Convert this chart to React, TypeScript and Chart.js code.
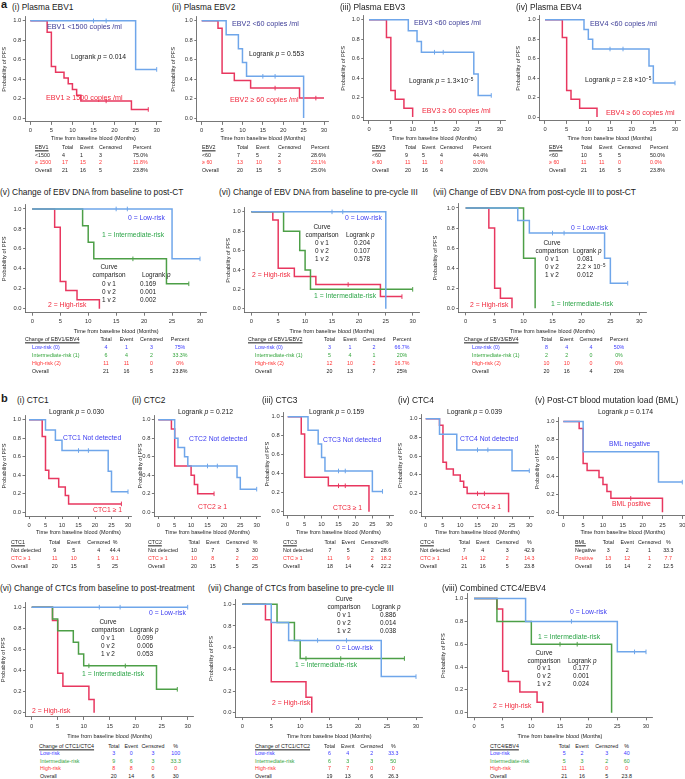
import React, { useEffect, useRef } from "react";
import { Chart, registerables } from "chart.js";

Chart.register(...registerables);

const FONT = '"Liberation Sans", Arial, Helvetica, sans-serif';
const BLUE = "#6fa6ea";
const RED = "#e8375f";
const GREEN = "#4d9f47";
const NAVY = "#3b3b96";
const BLUE_T = "#3d3df0";
const GREEN_T = "#2fa64a";
const RED_T = "#f0283c";
const TAB_BLUE = "#3a3aff";
const TAB_GREEN = "#34a53c";
const TAB_RED = "#ff3434";
const INK = "#1a1a1a";
const AXIS = "#555555";
const TICK_SIZE = 5.8;
const XT_SIZE = 5.5;
const YT_SIZE = 5.6;

// ---------- axis ticks ----------
const xTickVals = [0, 5, 10, 15, 20, 25, 30];
const yTickVals = [0, 0.2, 0.4, 0.6, 0.8, 1.0];

// ---------- (a)(i) Plasma EBV1 ----------
const ebv1LoT = [0, 25, 30];
const ebv1LoS = [1, 0.5, 0.5];
const ebv1LoC = [15, 18, 30];
const ebv1HiT = [0, 4, 5, 6, 8, 9, 10, 11, 12, 24, 28];
const ebv1HiS = [1, 0.882, 0.529, 0.471, 0.412, 0.353, 0.294, 0.235, 0.176, 0.088, 0.088];
const ebv1HiC = [18, 28];
// ---------- (a)(ii) Plasma EBV2 ----------
const ebv2LoT = [0, 6, 9, 10, 11, 25];
const ebv2LoS = [1, 0.857, 0.714, 0.571, 0.429, 0];
const ebv2LoC = [15, 18];
const ebv2HiT = [0, 4, 5, 8, 12, 24, 30];
const ebv2HiS = [1, 0.923, 0.462, 0.385, 0.308, 0.205, 0.205];
const ebv2HiC = [18, 28];
// ---------- (a)(iii) Plasma EBV3 ----------
const ebv3LoT = [0, 9, 11, 12, 24, 25, 28];
const ebv3LoS = [1, 0.889, 0.778, 0.667, 0.444, 0.222, 0.222];
const ebv3LoC = [15, 17, 28];
const ebv3HiT = [0, 4, 5, 6, 8, 10];
const ebv3HiS = [1, 0.818, 0.273, 0.182, 0.091, 0];
const ebv3HiC: number[] = [];
// ---------- (a)(iv) Plasma EBV4 ----------
const ebv4LoT = [0, 9, 10, 11, 24, 25, 30];
const ebv4LoS = [1, 0.9, 0.8, 0.7, 0.525, 0.35, 0.35];
const ebv4LoC = [15, 18, 30];
const ebv4HiT = [0, 4, 5, 6, 8, 12];
const ebv4HiS = [1, 0.818, 0.273, 0.182, 0.091, 0];
const ebv4HiC: number[] = [];
// ---------- (a)(v) EBV1/EBV4 ----------
const e14LowT = [0, 25, 30];
const e14LowS = [1, 0.5, 0.5];
const e14LowC = [15, 17, 30];
const e14IntT = [0, 9, 10, 11, 24, 28];
const e14IntS = [1, 0.833, 0.667, 0.5, 0.25, 0.25];
const e14IntC = [18, 28];
const e14HighT = [0, 4, 5, 6, 8, 12];
const e14HighS = [1, 0.818, 0.273, 0.182, 0.091, 0];
// ---------- (a)(vi) EBV1/EBV2 ----------
const e12LowT = [0, 25];
const e12LowS = [1, 0];
const e12LowC = [15, 17];
const e12IntT = [0, 6, 9, 10, 11, 30];
const e12IntS = [1, 0.8, 0.6, 0.4, 0.2, 0.2];
const e12IntC = [30];
const e12HighT = [0, 4, 5, 8, 12, 24, 28];
const e12HighS = [1, 0.917, 0.417, 0.333, 0.25, 0.125, 0.125];
const e12HighC = [18, 28];
// ---------- (a)(vii) EBV3/EBV4 ----------
const e34LowT = [0, 9, 11, 24, 25, 28];
const e34LowS = [1, 0.875, 0.75, 0.5, 0.25, 0.25];
const e34LowC = [15, 17, 28];
const e34IntT = [0, 10, 12];
const e34IntS = [1, 0.5, 0];
const e34HighT = [0, 4, 5, 6, 8];
const e34HighS = [1, 0.8, 0.2, 0.1, 0];
// ---------- (b)(i) CTC1 ----------
const ctc1NdT = [0, 5, 8, 10, 24, 25, 30];
const ctc1NdS = [1, 0.889, 0.778, 0.667, 0.444, 0.222, 0.222];
const ctc1NdC = [15, 18, 30];
const ctc1PosT = [0, 4, 5, 6, 9, 11, 12, 28];
const ctc1PosS = [1, 0.818, 0.455, 0.364, 0.273, 0.182, 0.091, 0.091];
const ctc1PosC = [28];
// ---------- (b)(ii) CTC2 ----------
const ctc2NdT = [0, 5, 6, 8, 9, 24, 25, 30];
const ctc2NdS = [1, 0.8, 0.7, 0.6, 0.5, 0.375, 0.25, 0.25];
const ctc2NdC = [15, 18, 30];
const ctc2PosT = [0, 4, 5, 10, 11, 12, 17];
const ctc2PosS = [1, 0.9, 0.5, 0.4, 0.3, 0.2, 0.2];
const ctc2PosC = [17];
// ---------- (b)(iii) CTC3 ----------
const ctc3NdT = [0, 6, 9, 10, 11, 25, 28];
const ctc3NdS = [1, 0.857, 0.714, 0.571, 0.429, 0.214, 0.214];
const ctc3NdC = [15, 17, 28];
const ctc3PosT = [0, 4, 5, 12, 24];
const ctc3PosS = [1, 0.818, 0.364, 0.273, 0];
const ctc3PosC = [15, 17];
// ---------- (b)(iv) CTC4 ----------
const ctc4NdT = [0, 4, 9, 25, 30];
const ctc4NdS = [1, 0.833, 0.667, 0.444, 0.444];
const ctc4NdC = [15, 18, 30];
const ctc4PosT = [0, 4, 5, 6, 8, 10, 11, 12, 24];
const ctc4PosS = [1, 0.929, 0.536, 0.464, 0.4, 0.333, 0.267, 0.2, 0];
const ctc4PosC = [15, 17];
// ---------- (b)(v) BML ----------
const bmlNegT = [0, 5, 24, 30];
const bmlNegS = [1, 0.667, 0.333, 0.333];
const bmlNegC = [30];
const bmlPosT = [0, 4, 5, 6, 9, 10, 11, 12, 25];
const bmlPosS = [1, 0.923, 0.538, 0.462, 0.385, 0.308, 0.231, 0.154, 0];
const bmlPosC = [17];
// ---------- (b)(vi) CTC1/CTC4 ----------
const c14LowT = [0, 30];
const c14LowS = [1, 1];
const c14LowC = [13, 17, 30];
const c14IntT = [0, 4, 5, 8, 9, 10, 24, 28];
const c14IntS = [1, 0.889, 0.778, 0.667, 0.556, 0.444, 0.222, 0.222];
const c14IntC = [11, 18, 28];
const c14HighT = [0, 4, 5, 6, 11, 12];
const c14HighS = [1, 0.875, 0.375, 0.25, 0.125, 0];
// ---------- (b)(vii) CTC1/CTC2 ----------
const c12LowT = [0, 5, 8, 24, 30];
const c12LowS = [1, 0.833, 0.667, 0.333, 0.333];
const c12LowC = [13, 18, 30];
const c12IntT = [0, 6, 9, 10, 28];
const c12IntS = [1, 0.833, 0.667, 0.5, 0.5];
const c12IntC = [11, 17, 28];
const c12HighT = [0, 4, 5, 11, 12];
const c12HighS = [1, 0.857, 0.286, 0.143, 0];
// ---------- (b)(viii) CTC4/EBV4 ----------
const ce4LowT = [0, 9, 25, 30];
const ce4LowS = [1, 0.8, 0.533, 0.533];
const ce4LowC = [17, 28, 30];
const ce4IntT = [0, 4, 10, 24];
const ce4IntS = [1, 0.8, 0.6, 0];
const ce4IntC = [15, 18];
const ce4HighT = [0, 4, 5, 6, 8, 11, 12];
const ce4HighS = [1, 0.909, 0.364, 0.273, 0.182, 0.091, 0];

// ---------- tables ----------
const headPercent = ["Total", "Event", "Censored", "Percent"];
const headPct = ["Total", "Event", "Censored", "%"];
const tEBV1 = [["<1500", "4", "1", "3", "75.0%"], ["≥ 1500", "17", "15", "2", "11.8%"], ["Overall", "21", "16", "5", "23.8%"]];
const tEBV2 = [["<60", "7", "5", "2", "28.6%"], ["≥ 60", "13", "10", "3", "23.1%"], ["Overall", "20", "15", "5", "25.0%"]];
const tEBV3 = [["<60", "9", "5", "4", "44.4%"], ["≥ 60", "11", "11", "0", "0.0%"], ["Overall", "20", "16", "4", "20.0%"]];
const tEBV4 = [["<60", "10", "5", "5", "50.0%"], ["≥ 60", "11", "11", "0", "0.0%"], ["Overall", "21", "16", "5", "23.8%"]];
const tE14 = [["Low-risk (0)", "4", "1", "3", "75%"], ["Intermediate-risk (1)", "6", "4", "2", "33.3%"], ["High-risk (2)", "11", "11", "0", "0%"], ["Overall", "21", "16", "5", "23.8%"]];
const tE12 = [["Low-risk (0)", "3", "1", "2", "66.7%"], ["Intermediate-risk (1)", "5", "4", "1", "20%"], ["High-risk (2)", "12", "10", "2", "16.7%"], ["Overall", "20", "13", "7", "25%"]];
const tE34 = [["Low-risk (0)", "8", "4", "4", "50%"], ["Intermediate-risk (1)", "2", "2", "0", "0%"], ["High-risk (2)", "10", "10", "0", "0%"], ["Overall", "20", "16", "4", "20%"]];
const tCTC1 = [["Not detected", "9", "5", "4", "44.4"], ["CTC ≥ 1", "11", "10", "1", "9.1"], ["Overall", "20", "15", "5", "25"]];
const tCTC2 = [["Not detected", "10", "7", "3", "30"], ["CTC ≥ 1", "10", "8", "2", "20"], ["Overall", "20", "15", "5", "25"]];
const tCTC3 = [["Not detected", "7", "5", "2", "28.6"], ["CTC ≥ 1", "11", "9", "2", "18.2"], ["Overall", "18", "14", "4", "22.2"]];
const tCTC4 = [["Not detected", "7", "4", "3", "42.9"], ["CTC ≥ 1", "14", "12", "2", "14.3"], ["Overall", "21", "16", "5", "23.8"]];
const tBML = [["Negative", "3", "2", "1", "33.3"], ["Positive", "13", "12", "1", "7.7"], ["Overall", "16", "14", "2", "12.5"]];
const tC14 = [["Low-risk", "3", "0", "3", "100"], ["Intermediate-risk", "9", "6", "3", "33.3"], ["High-risk", "8", "8", "0", "0"], ["Overall", "20", "14", "6", "30"]];
const tC12 = [["Low-risk", "6", "4", "2", "33.3"], ["Intermediate-risk", "6", "3", "3", "50"], ["High-risk", "7", "7", "0", "0"], ["Overall", "19", "13", "6", "26.3"]];
const tCE4 = [["Low-risk", "5", "2", "3", "40"], ["Intermediate-risk", "5", "3", "2", "60"], ["High-risk", "11", "11", "0", "0"], ["Overall", "21", "16", "5", "23.8"]];

// ---------- types & helpers ----------
type Curve = { t: number[]; s: number[]; c: number[]; color: string };
type Geo = { x0: number; x30: number; y1: number; y0: number; ytx: number; xty: number };
type Lab = { x: number; y: number; t: React.ReactNode; c?: string; s?: number; a?: "l" | "c"; b?: boolean; u?: boolean };
type Tab = { lx: number; rx: number; cols: number[]; center: boolean; y0: number; dy: number; name: string; head: string[]; rows: string[][]; colors: string[] };

function stepValue(t: number[], s: number[], x: number) {
  let v = s[0];
  for (let i = 0; i < t.length; i++) if (t[i] <= x) v = s[i];
  return v;
}

function KM({ geo, curves }: { geo: Geo; curves: Curve[] }) {
  const ref = useRef<HTMLCanvasElement | null>(null);
  const kx = (geo.x30 - geo.x0) / 30;
  const ky = geo.y0 - geo.y1;
  const cl = geo.x0 - 1.2 * kx;
  const cr = geo.x30 + 1.2 * kx;
  const ct = geo.y1 - 0.04 * ky;
  const cb = geo.y0 + 0.04 * ky;
  const leftEdge = geo.ytx - (YT_SIZE * 1.2) / 2;
  const bottomEdge = geo.xty + (XT_SIZE * 1.2) / 2;
  const left = Math.floor(leftEdge);
  const top = Math.floor(ct - 4);
  const W = Math.ceil(cr + 4 - left);
  const H = Math.ceil(bottomEdge - top);
  const pad = { left: leftEdge - left, top: ct - top, right: left + W - cr, bottom: top + H - bottomEdge };
  const wy = cl - leftEdge;
  const hx = bottomEdge - cb;

  useEffect(() => {
    const canvas = ref.current;
    if (!canvas) return;
    const datasets: any[] = [];
    curves.forEach((cv) => {
      datasets.push({
        data: cv.t.map((x, i) => ({ x, y: cv.s[i] })),
        borderColor: cv.color,
        borderWidth: 1.5,
        pointRadius: 0,
        pointHoverRadius: 0,
        stepped: "before",
        fill: false,
        tension: 0,
      });
      if (cv.c.length) {
        datasets.push({
          data: cv.c.map((x) => ({ x, y: stepValue(cv.t, cv.s, x) })),
          showLine: false,
          borderColor: cv.color,
          backgroundColor: cv.color,
          pointStyle: "line",
          rotation: 90,
          pointRadius: 2.3,
          pointHoverRadius: 2.3,
          pointBorderWidth: 1,
          borderWidth: 1,
        });
      }
    });
    const chart = new Chart(canvas, {
      type: "line",
      data: { datasets },
      options: {
        animation: false,
        responsive: false,
        maintainAspectRatio: false,
        events: [],
        layout: { padding: pad },
        plugins: { legend: { display: false }, tooltip: { enabled: false } },
        scales: {
          x: {
            type: "linear",
            min: -1.2,
            max: 31.2,
            afterBuildTicks: (sc: any) => {
              sc.ticks = xTickVals.map((v) => ({ value: v }));
            },
            afterFit: (sc: any) => {
              sc.height = hx;
            },
            grid: { display: true, drawOnChartArea: false, drawTicks: true, tickLength: 3, color: AXIS, lineWidth: 0.8 },
            border: { display: true, color: AXIS, width: 0.8 },
            ticks: { font: { size: TICK_SIZE, family: FONT }, color: "#333", padding: 2.5, maxRotation: 0, autoSkip: false, callback: (v: any) => String(v) },
            title: { display: true, text: "Time from baseline blood (Months)", font: { size: XT_SIZE, family: FONT }, color: "#222", padding: 0 },
          },
          y: {
            type: "linear",
            min: -0.04,
            max: 1.04,
            afterBuildTicks: (sc: any) => {
              sc.ticks = yTickVals.map((v) => ({ value: v }));
            },
            afterFit: (sc: any) => {
              sc.width = wy;
            },
            grid: { display: true, drawOnChartArea: false, drawTicks: true, tickLength: 2.5, color: AXIS, lineWidth: 0.8 },
            border: { display: true, color: AXIS, width: 0.8 },
            ticks: { font: { size: TICK_SIZE, family: FONT }, color: "#333", padding: 1.5, autoSkip: false, callback: (v: any) => Number(v).toFixed(1) },
            title: { display: true, text: "Probability of PFS", font: { size: YT_SIZE, family: FONT }, color: "#222", padding: 0 },
          },
        },
      } as any,
    });
    return () => chart.destroy();
  }, []);

  return <canvas ref={ref} width={W} height={H} style={{ position: "absolute", left, top, width: W, height: H }} />;
}

function Txt({ l }: { l: Lab }) {
  return (
    <div
      style={{
        position: "absolute",
        left: l.x,
        top: l.y,
        transform: `translate(${l.a === "c" ? "-50%" : "0"}, -50%)`,
        fontSize: l.s ?? 6.8,
        color: l.c ?? INK,
        fontWeight: l.b ? 700 : 400,
        textDecoration: l.u ? "underline" : "none",
        whiteSpace: "nowrap",
        lineHeight: 1,
        fontFamily: FONT,
      }}
    >
      {l.t}
    </div>
  );
}

const Sup = ({ children }: { children: React.ReactNode }) => (
  <span style={{ fontSize: "0.7em", position: "relative", top: "-0.45em" }}>{children}</span>
);
const LR = (v: React.ReactNode): React.ReactNode => (
  <>
    Logrank <i>p</i> = {v}
  </>
);

function cmp(x1: number, x2h: number, x2v: number, y0: number, dy: number, vals: React.ReactNode[]): Lab[] {
  const s = 6.4;
  const out: Lab[] = [
    { x: x1, y: y0, t: "Curve", a: "c", s },
    { x: x1, y: y0 + dy, t: "comparison", a: "c", s },
    { x: x2h, y: y0 + dy, t: <>Logrank <i>p</i></>, s },
  ];
  ["0 v 1", "0 v 2", "1 v 2"].forEach((k, i) => {
    out.push({ x: x1, y: y0 + (i + 2) * dy, t: k, a: "c", s });
    out.push({ x: x2v, y: y0 + (i + 2) * dy, t: vals[i], s });
  });
  return out;
}

function tableLabels(tb: Tab): Lab[] {
  const s = 5.3;
  const a: "l" | "c" = tb.center ? "c" : "l";
  const out: Lab[] = [{ x: tb.lx, y: tb.y0, t: tb.name, s, u: true }];
  tb.head.forEach((h, i) => out.push({ x: tb.cols[i], y: tb.y0, t: h, s, a }));
  tb.rows.forEach((r, ri) => {
    const y = tb.y0 + (ri + 1) * tb.dy;
    const c = tb.colors[ri];
    out.push({ x: tb.rx, y, t: r[0], s, c });
    for (let k = 1; k < r.length; k++) out.push({ x: tb.cols[k - 1], y, t: r[k], s, c, a });
  });
  return out;
}

const C2 = [INK, TAB_RED, INK];
const C4 = [TAB_BLUE, TAB_GREEN, TAB_RED, INK];

const panels: { geo: Geo; curves: Curve[] }[] = [
  { geo: { x0: 30.3, x30: 156.7, y1: 20.5, y0: 118, ytx: 4, xty: 138 }, curves: [
    { t: ebv1LoT, s: ebv1LoS, c: ebv1LoC, color: BLUE }, { t: ebv1HiT, s: ebv1HiS, c: ebv1HiC, color: RED }] },
  { geo: { x0: 201.7, x30: 324, y1: 20.5, y0: 118, ytx: 173, xty: 138 }, curves: [
    { t: ebv2LoT, s: ebv2LoS, c: ebv2LoC, color: BLUE }, { t: ebv2HiT, s: ebv2HiS, c: ebv2HiC, color: RED }] },
  { geo: { x0: 369, x30: 500, y1: 19.5, y0: 117, ytx: 343, xty: 138 }, curves: [
    { t: ebv3LoT, s: ebv3LoS, c: ebv3LoC, color: BLUE }, { t: ebv3HiT, s: ebv3HiS, c: ebv3HiC, color: RED }] },
  { geo: { x0: 545, x30: 675, y1: 19.5, y0: 117, ytx: 518, xty: 138 }, curves: [
    { t: ebv4LoT, s: ebv4LoS, c: ebv4LoC, color: BLUE }, { t: ebv4HiT, s: ebv4HiS, c: ebv4HiC, color: RED }] },
  { geo: { x0: 32.3, x30: 200, y1: 208.3, y0: 308.7, ytx: 4, xty: 331 }, curves: [
    { t: e14LowT, s: e14LowS, c: e14LowC, color: BLUE }, { t: e14IntT, s: e14IntS, c: e14IntC, color: GREEN }, { t: e14HighT, s: e14HighS, c: [], color: RED }] },
  { geo: { x0: 251.3, x30: 412.7, y1: 211.3, y0: 308.7, ytx: 228, xty: 331 }, curves: [
    { t: e12LowT, s: e12LowS, c: e12LowC, color: BLUE }, { t: e12IntT, s: e12IntS, c: e12IntC, color: GREEN }, { t: e12HighT, s: e12HighS, c: e12HighC, color: RED }] },
  { geo: { x0: 465.7, x30: 639.3, y1: 207.3, y0: 308.3, ytx: 435, xty: 331 }, curves: [
    { t: e34LowT, s: e34LowS, c: e34LowC, color: BLUE }, { t: e34IntT, s: e34IntS, c: [], color: GREEN }, { t: e34HighT, s: e34HighS, c: [], color: RED }] },
  { geo: { x0: 29, x30: 128, y1: 419.3, y0: 512.3, ytx: 4, xty: 532 }, curves: [
    { t: ctc1NdT, s: ctc1NdS, c: ctc1NdC, color: BLUE }, { t: ctc1PosT, s: ctc1PosS, c: ctc1PosC, color: RED }] },
  { geo: { x0: 158.3, x30: 256.7, y1: 419.3, y0: 512.3, ytx: 140, xty: 532 }, curves: [
    { t: ctc2NdT, s: ctc2NdS, c: ctc2NdC, color: BLUE }, { t: ctc2PosT, s: ctc2PosS, c: ctc2PosC, color: RED }] },
  { geo: { x0: 287.7, x30: 389.3, y1: 416.7, y0: 511.7, ytx: 267, xty: 532 }, curves: [
    { t: ctc3NdT, s: ctc3NdS, c: ctc3NdC, color: BLUE }, { t: ctc3PosT, s: ctc3PosS, c: ctc3PosC, color: RED }] },
  { geo: { x0: 425.7, x30: 529.3, y1: 418.3, y0: 512.3, ytx: 400, xty: 532 }, curves: [
    { t: ctc4NdT, s: ctc4NdS, c: ctc4NdC, color: BLUE }, { t: ctc4PosT, s: ctc4PosS, c: ctc4PosC, color: RED }] },
  { geo: { x0: 563.3, x30: 682.3, y1: 420.7, y0: 512.3, ytx: 537, xty: 532 }, curves: [
    { t: bmlNegT, s: bmlNegS, c: bmlNegC, color: BLUE }, { t: bmlPosT, s: bmlPosS, c: bmlPosC, color: RED }] },
  { geo: { x0: 31.7, x30: 187.7, y1: 606.7, y0: 712.7, ytx: 3.5, xty: 736 }, curves: [
    { t: c14LowT, s: c14LowS, c: c14LowC, color: BLUE }, { t: c14IntT, s: c14IntS, c: c14IntC, color: GREEN }, { t: c14HighT, s: c14HighS, c: [], color: RED }] },
  { geo: { x0: 242.3, x30: 416, y1: 604, y0: 712.7, ytx: 211, xty: 736 }, curves: [
    { t: c12LowT, s: c12LowS, c: c12LowC, color: BLUE }, { t: c12IntT, s: c12IntS, c: c12IntC, color: GREEN }, { t: c12HighT, s: c12HighS, c: [], color: RED }] },
  { geo: { x0: 474, x30: 646, y1: 597.7, y0: 712.7, ytx: 443, xty: 736 }, curves: [
    { t: ce4LowT, s: ce4LowS, c: ce4LowC, color: BLUE }, { t: ce4IntT, s: ce4IntS, c: ce4IntC, color: GREEN }, { t: ce4HighT, s: ce4HighS, c: [], color: RED }] },
];

const TS = 8.4;
const titles: Lab[] = [
  { x: 1, y: 4, t: "a", b: true, s: 11 },
  { x: 12, y: 7, t: "(i) Plasma EBV1", s: TS },
  { x: 172, y: 7, t: "(ii) Plasma EBV2", s: TS },
  { x: 340, y: 7, t: "(iii) Plasma EBV3", s: TS },
  { x: 516, y: 7, t: "(iv) Plasma EBV4", s: TS },
  { x: 0, y: 192, t: "(v) Change of EBV DNA from baseline to post-CT", s: TS },
  { x: 219, y: 192, t: "(vi) Change of EBV DNA from baseline to pre-cycle III", s: TS },
  { x: 433, y: 192, t: "(vii) Change of EBV DNA from post-cycle III to post-CT", s: TS },
  { x: 1, y: 398, t: "b", b: true, s: 11 },
  { x: 17, y: 400, t: "(i) CTC1", s: TS },
  { x: 132, y: 400, t: "(ii) CTC2", s: TS },
  { x: 262, y: 400, t: "(iii) CTC3", s: TS },
  { x: 398, y: 400, t: "(iv) CTC4", s: TS },
  { x: 535, y: 400, t: "(v) Post-CT blood mutation load (BML)", s: TS },
  { x: 0, y: 588, t: "(vi) Change of CTCs from baseline to post-treatment", s: TS },
  { x: 208, y: 588, t: "(vii) Change of CTCs from baseline to pre-cycle III", s: TS },
  { x: 442, y: 588, t: "(viii) Combined CTC4/EBV4", s: TS },
];

const A = 7.2;
const annotations: Lab[] = [
  { x: 47, y: 27, t: "EBV1 <1500 copies /ml", c: NAVY, s: A },
  { x: 71, y: 57, t: LR("0.014") },
  { x: 46, y: 98, t: "EBV1 ≥ 1500 copies /ml", c: RED_T, s: A },
  { x: 232, y: 24, t: "EBV2 <60 copies /ml", c: NAVY, s: A },
  { x: 249, y: 54, t: LR("0.553") },
  { x: 230, y: 100, t: "EBV2 ≥ 60 copies /ml", c: RED_T, s: A },
  { x: 414, y: 23, t: "EBV3 <60 copies /ml", c: NAVY, s: A },
  { x: 409, y: 81, t: LR(<>1.3×10<Sup>−5</Sup></>) },
  { x: 422, y: 111, t: "EBV3 ≥ 60 copies /ml", c: RED_T, s: A },
  { x: 590, y: 24, t: "EBV4 <60 copies /ml", c: NAVY, s: A },
  { x: 585, y: 80, t: LR(<>2.8 ×10<Sup>−5</Sup></>) },
  { x: 606, y: 113, t: "EBV4 ≥ 60 copies /ml", c: RED_T, s: A },
  // (v)
  { x: 128, y: 218, t: "0 = Low-risk", c: BLUE_T },
  { x: 102, y: 235, t: "1 = Intermediate-risk", c: GREEN_T },
  { x: 48, y: 305, t: "2 = High-risk", c: RED_T },
  ...cmp(109, 142, 140, 267, 8.3, ["0.169", "0.001", "0.002"]),
  // (vi)
  { x: 345, y: 218, t: "0 = Low-risk", c: BLUE_T },
  { x: 252, y: 275, t: "2 = High-risk", c: RED_T },
  { x: 314, y: 296, t: "1 = Intermediate-risk", c: GREEN_T },
  ...cmp(322, 346, 354, 227, 8, ["0.204", "0.107", "0.578"]),
  // (vii)
  { x: 571, y: 228, t: "0 = Low-risk", c: BLUE_T },
  { x: 470, y: 305, t: "2 = High-risk", c: RED_T },
  { x: 551, y: 304, t: "1 = Intermediate-risk", c: GREEN_T },
  ...cmp(552, 573, 577, 243, 8, ["0.081", <>2.2 × 10<Sup>−5</Sup></>, "0.012"]),
  // b (i)-(v)
  { x: 49, y: 412, t: LR("0.030") },
  { x: 63, y: 438, t: "CTC1 Not detected", c: BLUE_T },
  { x: 93, y: 510, t: "CTC1 ≥ 1", c: RED_T },
  { x: 178, y: 412, t: LR("0.212") },
  { x: 189, y: 439, t: "CTC2 Not detected", c: BLUE_T },
  { x: 198, y: 507, t: "CTC2 ≥ 1", c: RED_T },
  { x: 309, y: 412, t: LR("0.159") },
  { x: 323, y: 440, t: "CTC3 Not detected", c: BLUE_T },
  { x: 333, y: 508, t: "CTC3 ≥ 1", c: RED_T },
  { x: 447, y: 412, t: LR("0.039") },
  { x: 460, y: 439, t: "CTC4 Not detected", c: BLUE_T },
  { x: 472, y: 507, t: "CTC4 ≥ 1", c: RED_T },
  { x: 598, y: 412, t: LR("0.174") },
  { x: 609, y: 444, t: "BML negative", c: BLUE_T },
  { x: 612, y: 504, t: "BML positive", c: RED_T },
  // b (vi)
  { x: 149, y: 613, t: "0 = Low-risk", c: BLUE_T },
  { x: 82, y: 674, t: "1 = Intermediate-risk", c: GREEN_T },
  { x: 32, y: 711, t: "2 = High-risk", c: RED_T },
  ...cmp(108, 130, 137, 622, 8, ["0.099", "0.006", "0.053"]),
  // b (vii)
  ...cmp(344, 372, 380, 599, 8, ["0.886", "0.014", "0.038"]),
  { x: 336, y: 648, t: "0 = Low-risk", c: BLUE_T },
  { x: 295, y: 665, t: "1 = Intermediate-risk", c: GREEN_T },
  { x: 272, y: 703, t: "2 = High-risk", c: RED_T },
  // b (viii)
  { x: 570, y: 612, t: "0 = Low-risk", c: BLUE_T },
  { x: 538, y: 637, t: "1 = Intermediate-risk", c: GREEN_T },
  ...cmp(544, 568, 573, 653, 7.7, ["0.177", "0.001", "0.024"]),
  { x: 493, y: 706, t: "2 = High-risk", c: RED_T },
];

const tables: Tab[] = [
  { lx: 35, rx: 35, cols: [62, 80, 99, 133], center: false, y0: 148, dy: 7.5, name: "EBV1", head: headPercent, rows: tEBV1, colors: C2 },
  { lx: 202, rx: 202, cols: [237, 256, 278, 311], center: false, y0: 148, dy: 7.5, name: "EBV2", head: headPercent, rows: tEBV2, colors: C2 },
  { lx: 372, rx: 372, cols: [405, 422, 440, 473], center: false, y0: 148, dy: 7.5, name: "EBV3", head: headPercent, rows: tEBV3, colors: C2 },
  { lx: 549, rx: 549, cols: [581, 599, 618, 650], center: false, y0: 148, dy: 7.5, name: "EBV4", head: headPercent, rows: tEBV4, colors: C2 },
  { lx: 25, rx: 32, cols: [106, 126.5, 151.5, 180], center: true, y0: 340, dy: 8, name: "Change of EBV1/EBV4", head: headPercent, rows: tE14, colors: C4 },
  { lx: 248, rx: 255, cols: [329.5, 350, 374, 402], center: true, y0: 340, dy: 8, name: "Change of EBV1/EBV2", head: headPercent, rows: tE12, colors: C4 },
  { lx: 464, rx: 472, cols: [546.5, 566.7, 591, 619], center: true, y0: 340, dy: 8, name: "Change of EBV3/EBV4", head: headPercent, rows: tE34, colors: C4 },
  { lx: 11, rx: 11, cols: [54.7, 73.8, 98.8, 115], center: true, y0: 543, dy: 8, name: "CTC1", head: headPct, rows: tCTC1, colors: C2 },
  { lx: 148, rx: 148, cols: [194, 212.8, 237.2, 255], center: true, y0: 543, dy: 8, name: "CTC2", head: headPct, rows: tCTC2, colors: C2 },
  { lx: 283, rx: 283, cols: [330, 348.3, 372.3, 386], center: true, y0: 543, dy: 8, name: "CTC3", head: headPct, rows: tCTC3, colors: C2 },
  { lx: 420, rx: 420, cols: [464.3, 482.8, 507.2, 529.3], center: true, y0: 543, dy: 8, name: "CTC4", head: headPct, rows: tCTC4, colors: C2 },
  { lx: 575, rx: 575, cols: [608.3, 627.2, 649.5, 668.3], center: true, y0: 543, dy: 8, name: "BML", head: headPct, rows: tBML, colors: C2 },
  { lx: 39, rx: 40, cols: [113.8, 131.3, 153, 175.7], center: true, y0: 747, dy: 7.4, name: "Change of CTC1/CTC4", head: headPct, rows: tC14, colors: C4 },
  { lx: 255, rx: 255, cols: [329.5, 347.8, 371.7, 393.3], center: true, y0: 747, dy: 7.4, name: "Change of CTC1/CTC2", head: headPct, rows: tC12, colors: C4 },
  { lx: 490, rx: 490, cols: [564.3, 582, 606.7, 626.7], center: true, y0: 747, dy: 7.4, name: "CTC4/EBV4", head: headPct, rows: tCE4, colors: C4 },
];

export default function App() {
  const labels: Lab[] = [...titles, ...annotations, ...tables.flatMap(tableLabels)];
  return (
    <div
      style={{
        position: "absolute",
        left: 0,
        top: 0,
        width: 685,
        height: 779,
        background: "#ffffff",
        overflow: "hidden",
        fontFamily: FONT,
      }}
    >
      {panels.map((p, i) => (
        <KM key={i} geo={p.geo} curves={p.curves} />
      ))}
      {labels.map((l, i) => (
        <Txt key={"l" + i} l={l} />
      ))}
    </div>
  );
}
